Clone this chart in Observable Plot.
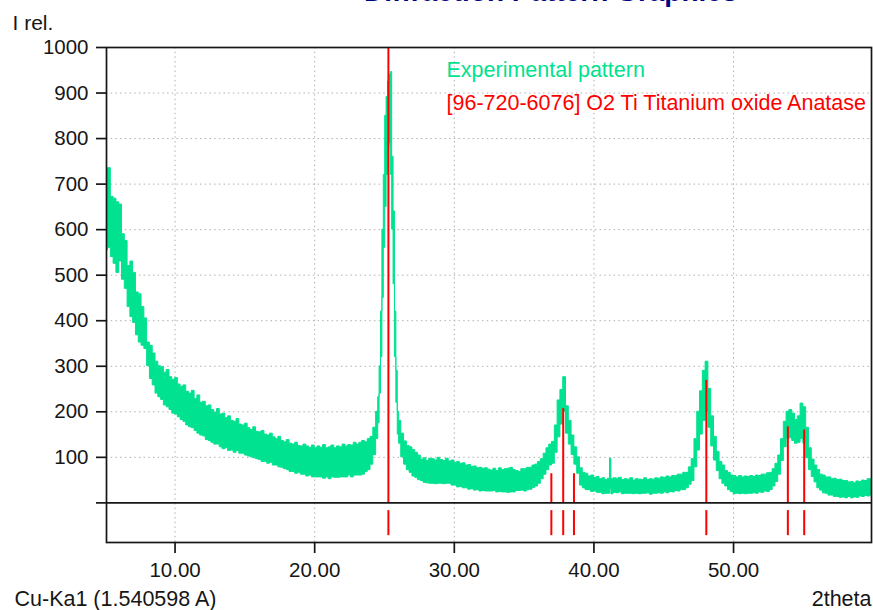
<!DOCTYPE html>
<html>
<head>
<meta charset="utf-8">
<script src="https://cdn.jsdelivr.net/npm/d3@7"></script>
<script src="https://cdn.jsdelivr.net/npm/@observablehq/plot@0.6"></script>
<style>
  html, body { margin: 0; padding: 0; background: #fff; }
  #chart { width: 873px; height: 610px; overflow: hidden; }
</style>
</head>
<body>
<div id="chart"></div>
<script>
// ---- Experimental pattern: noise band (2theta, lower and upper edge) ----
const theta = [
  5.1,5.3,5.5,5.7,5.9,6.1,6.3,6.5,6.7,6.9,7.1,7.3,7.5,7.7,7.9,8.1,8.3,8.5,8.7,8.9,
  9.1,9.3,9.5,9.7,9.9,10.1,10.3,10.5,10.7,10.9,11.1,11.3,11.5,11.7,11.9,12.1,12.3,12.5,12.7,12.9,
  13.1,13.3,13.5,13.7,13.9,14.1,14.3,14.5,14.7,14.9,15.1,15.3,15.5,15.7,15.9,16.1,16.3,16.5,16.7,16.9,
  17.1,17.3,17.5,17.7,17.9,18.1,18.3,18.5,18.7,18.9,19.1,19.3,19.5,19.7,19.9,20.1,20.3,20.5,20.7,20.9,
  21.1,21.3,21.5,21.7,21.9,22.1,22.3,22.5,22.7,22.9,23.1,23.3,23.5,23.7,23.9,24.1,24.3,24.5,
  24.6,24.7,24.8,24.9,25.0,25.1,25.2,25.3,25.4,25.5,25.6,25.7,25.8,25.9,26.0,26.1,26.3,26.5,26.7,26.9,
  27.1,27.3,27.5,27.7,27.9,28.1,28.3,28.5,28.7,28.9,29.1,29.3,29.5,29.7,29.9,30.1,30.3,30.5,30.7,30.9,
  31.1,31.3,31.5,31.7,31.9,32.1,32.3,32.5,32.7,32.9,33.1,33.3,33.5,33.7,33.9,34.1,34.3,34.5,34.7,34.9,
  35.1,35.3,35.5,35.7,35.9,36.1,36.3,36.5,36.7,36.9,37.1,37.3,37.5,37.7,37.9,38.1,38.3,38.5,38.7,38.9,
  39.1,39.3,39.5,39.7,39.9,40.1,40.3,40.5,40.7,40.9,41.1,41.2,41.3,41.5,41.7,41.9,42.1,42.3,42.5,42.7,
  42.9,43.1,43.3,43.5,43.7,43.9,44.1,44.3,44.5,44.7,44.9,45.1,45.3,45.5,45.7,45.9,46.1,46.3,46.5,46.7,
  46.9,47.1,47.3,47.5,47.7,47.9,48.1,48.3,48.5,48.7,48.9,49.1,49.3,49.5,49.7,49.9,50.1,50.3,50.5,50.7,
  50.9,51.1,51.3,51.5,51.7,51.9,52.1,52.3,52.5,52.7,52.9,53.1,53.3,53.5,53.7,53.9,54.1,54.3,54.5,54.7,
  54.9,55.1,55.3,55.5,55.7,55.9,56.1,56.3,56.5,56.7,56.9,57.1,57.3,57.5,57.7,57.9,58.1,58.3,58.5,58.7,
  58.9,59.1,59.3,59.5,59.7,59.9
];
const upper = [
  700,735,672,668,660,655,590,575,520,530,505,462,458,430,405,352,345,328,310,300,
  298,286,292,276,270,274,260,255,258,244,240,246,228,236,220,222,212,214,204,198,
  206,194,196,186,190,180,178,184,172,170,174,164,160,166,156,155,158,150,148,152,
  144,140,145,136,133,138,130,128,132,125,124,128,124,121,126,120,124,121,127,120,
  122,126,120,124,122,128,124,127,126,132,128,132,136,133,140,145,165,200,
  232,300,420,600,720,850,891,925,940,946,760,640,420,290,200,180,152,135,125,122,
  116,110,104,95,98,92,97,96,93,99,94,92,97,91,93,88,90,86,87,82,
  83,79,80,76,77,75,76,73,71,75,70,76,72,74,75,77,72,70,68,74,
  74,77,77,82,84,90,96,108,120,128,134,170,225,248,276,212,180,148,122,100,
  76,66,64,58,60,55,57,52,54,50,53,97,52,54,53,55,50,52,51,54,
  49,52,51,50,54,50,52,51,54,53,56,55,58,56,59,59,62,62,66,66,
  78,96,140,200,245,290,310,250,190,145,112,90,82,70,66,60,59,56,59,56,
  58,57,59,57,60,59,62,62,65,66,74,86,104,140,178,200,204,196,182,190,
  218,210,165,120,95,82,72,62,60,56,56,52,53,50,51,48,48,45,46,43,
  47,46,49,48,52,52
];
const lower = [
  555,560,540,525,505,530,490,470,430,408,395,368,352,345,338,300,272,258,240,232,
  226,214,210,204,196,194,188,182,178,170,166,164,158,152,148,146,138,136,132,128,
  128,122,118,120,114,115,110,114,108,108,104,102,100,98,96,94,90,90,86,88,
  82,82,78,77,74,72,68,68,64,66,62,62,58,60,56,56,56,56,53,56,
  52,56,55,55,56,56,56,60,56,60,60,60,62,68,72,84,105,140,
  175,240,320,450,560,650,720,780,790,720,600,480,320,220,150,130,100,84,72,66,
  58,55,50,48,44,43,42,42,41,42,42,41,42,42,38,38,34,35,32,32,
  29,30,27,28,25,26,25,25,25,26,23,24,23,23,22,23,23,26,26,27,
  25,28,29,33,36,42,52,62,72,82,86,110,144,172,200,152,128,105,84,64,
  38,32,28,28,24,25,22,22,19,20,20,30,19,22,21,23,19,20,20,20,
  19,20,19,20,20,21,18,20,20,21,20,23,21,24,23,26,25,28,28,32,
  40,48,78,115,150,180,200,165,124,93,70,52,42,36,28,24,19,20,19,20,
  19,20,20,21,20,23,22,25,24,28,36,46,62,92,122,140,142,136,130,132,
  140,130,98,72,57,45,32,27,21,20,16,16,13,13,11,12,10,13,10,12,
  11,14,13,15,14,17
];

// ---- Reference pattern [96-720-6076] Anatase: stick positions and relative intensities ----
const refTheta = [25.28, 36.95, 37.80, 38.57, 48.05, 53.89, 55.06];
const refIntensity = [1000, 64, 207, 64, 269, 167, 160];

// ---- Axis ticks and texts ----
const xTicks = [10, 20, 30, 40, 50];
const yTicks = [0, 100, 200, 300, 400, 500, 600, 700, 800, 900, 1000];
const legendLabels = ["Experimental pattern", "[96-720-6076] O2 Ti Titanium oxide Anatase"];
const yTitle = "I rel.";
const xTitle = "2theta";
const wavelength = "Cu-Ka1 (1.540598 A)";
const title = "Diffraction Pattern Graphics";

const pattern = theta.map((t, i) => ({t, lo: lower[i], hi: upper[i]}));
const sticks = refTheta.map((t, i) => ({t, v: refIntensity[i]}));

const GREEN = "#00e28f";
const RED = "#ff0000";
const INK = "#161616";
const gridStyle = {stroke: "#b0b0b0", strokeOpacity: 1, strokeWidth: 1, strokeDasharray: "1.5,3.2"};

const chart = Plot.plot({
  width: 873,
  height: 610,
  marginLeft: 106,
  marginRight: 2,
  marginTop: 47,
  marginBottom: 68,
  style: {fontFamily: "'Liberation Sans', Arial, sans-serif", fontSize: "20.5px", background: "#fff", color: INK},
  x: {domain: [5.09, 59.88]},
  y: {domain: [-87, 1000]},
  marks: [
    Plot.gridX(xTicks, gridStyle),
    Plot.gridY(yTicks.filter(d => d > 0 && d < 1000), gridStyle),
    Plot.areaY(pattern, {x: "t", y1: "lo", y2: "hi", curve: "step", fill: GREEN, stroke: GREEN, strokeWidth: 1, clip: true}),
    Plot.ruleX(sticks, {x: "t", y1: 0, y2: "v", stroke: RED, strokeWidth: 2}),
    Plot.ruleX(sticks, {x: "t", y1: -17, y2: -72, stroke: RED, strokeWidth: 2}),
    Plot.ruleY([0], {stroke: INK, strokeWidth: 1.7}),
    Plot.frame({stroke: INK, strokeWidth: 1.7}),
    Plot.axisY(yTicks, {tickSize: 10, tickPadding: 8, tickFormat: d => d === 0 ? "" : String(d), label: null, strokeWidth: 1.7, color: INK}),
    Plot.axisX(xTicks, {tickSize: 11, tickPadding: 9, tickFormat: d => d.toFixed(2), label: null, strokeWidth: 1.7, color: INK}),
    Plot.text([legendLabels[0]], {frameAnchor: "top-left", dx: 340, dy: 14, textAnchor: "start", fill: GREEN, fontSize: 21.5}),
    Plot.text([legendLabels[1]], {frameAnchor: "top-left", dx: 340, dy: 47, textAnchor: "start", fill: RED, fontSize: 21.5}),
    Plot.text([yTitle], {frameAnchor: "top-left", dx: -94, dy: -32, textAnchor: "start", fill: INK, fontSize: 21}),
    Plot.text([wavelength], {frameAnchor: "bottom-left", dx: -92, dy: 63, textAnchor: "start", fill: INK, fontSize: 21.5}),
    Plot.text([xTitle], {frameAnchor: "bottom-right", dx: 0, dy: 63, textAnchor: "end", fill: INK, fontSize: 21.5}),
    Plot.text([title], {frameAnchor: "top-left", dx: 631, dy: -47, lineAnchor: "bottom", textAnchor: "end", fill: "#000080", fontWeight: "bold", fontSize: 28})
  ]
});
document.getElementById("chart").appendChild(chart);
</script>
</body>
</html>
